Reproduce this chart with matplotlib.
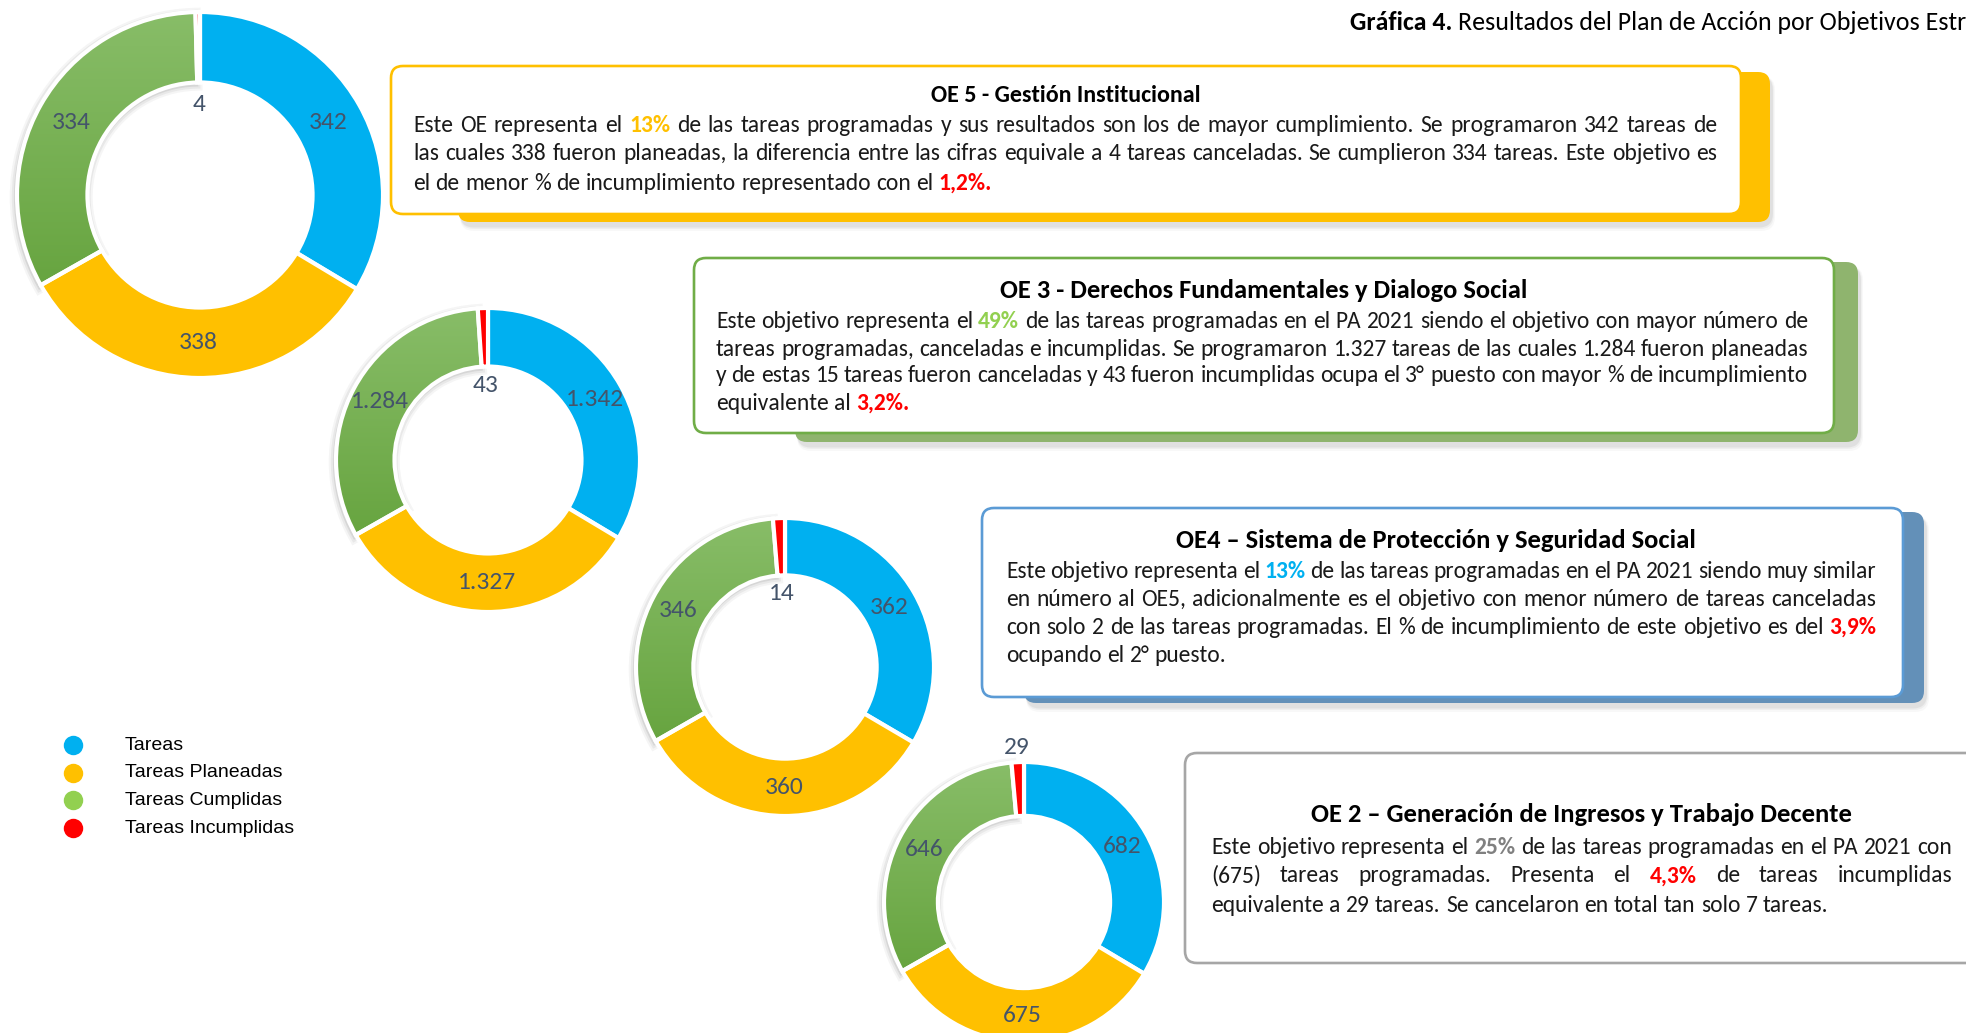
import numpy as np
import matplotlib
matplotlib.use("Agg")
import matplotlib.pyplot as plt
from matplotlib import font_manager
from matplotlib.patches import FancyBboxPatch, Wedge
from matplotlib.colors import LinearSegmentedColormap

W, H = 1966, 1033

# --- data ---
categories = ['Tareas', 'Tareas Planeadas', 'Tareas Cumplidas', 'Tareas Incumplidas']
oe5_values = [342, 338, 334, 4]
oe3_values = [1342, 1327, 1284, 43]
oe4_values = [362, 360, 346, 14]
oe2_values = [682, 675, 646, 29]

chart_title_bold = 'Gráfica 4.'
chart_title_rest = 'Resultados del Plan de Acción por Objetivos Estratégicos'

# ^x^ = accent colour, ~x~ = red
oe5_title = 'OE 5 - Gestión Institucional'
oe5_lines = [
    'Este OE representa el ^13%^ de las tareas programadas y sus resultados son los de mayor cumplimiento. Se programaron 342 tareas de',
    'las cuales 338 fueron planeadas, la diferencia entre las cifras equivale a 4 tareas canceladas.  Se cumplieron 334 tareas. Este objetivo es',
    'el de menor % de incumplimiento representado con el ~1,2%.~',
]
oe3_title = 'OE 3 - Derechos Fundamentales y Dialogo Social'
oe3_lines = [
    'Este objetivo representa el ^49%^ de las tareas programadas en el PA 2021 siendo el objetivo con mayor número de',
    'tareas programadas, canceladas e incumplidas. Se programaron 1.327 tareas de las cuales 1.284 fueron planeadas',
    'y de estas 15 tareas fueron canceladas y 43 fueron incumplidas ocupa el 3° puesto con mayor % de incumplimiento',
    'equivalente al ~3,2%.~',
]
oe4_title = 'OE4 – Sistema de Protección y Seguridad Social'
oe4_lines = [
    'Este objetivo representa el ^13%^ de las tareas programadas en el PA 2021 siendo muy similar',
    'en número al OE5, adicionalmente es el objetivo con menor número de tareas canceladas',
    'con solo 2 de las tareas programadas. El % de incumplimiento de este objetivo es del ~3,9%~',
    'ocupando el 2° puesto.',
]
oe2_title = 'OE 2 – Generación de Ingresos y Trabajo Decente'
oe2_lines = [
    'Este objetivo representa el ^25%^ de las tareas programadas en el PA 2021 con',
    '(675) tareas programadas. Presenta el ~4,3%~ de tareas incumplidas',
    'equivalente a 29 tareas. Se cancelaron en total tan solo 7 tareas.',
]

# --- styles ---
slice_colors = ['#00B0F0', '#FFC000', '#70AD47', '#FF0000']
legend_colors = ['#00B0F0', '#FFC000', '#92D050', '#FF0000']
label_color = '#44546A'
text_color = '#1A1A1A'
HOLE = 0.615


def pick_font(names):
    for n in names:
        try:
            font_manager.findfont(font_manager.FontProperties(family=n), fallback_to_default=False)
            return n
        except ValueError:
            pass
    return 'DejaVu Sans'


FONT = pick_font(['Carlito', 'Liberation Sans Narrow', 'Lato'])
LABEL_FONT = pick_font(['Carlito', 'Lato'])

# donut layout: (values, cx, cy, R, red label outside)
donuts = [
    (oe5_values, 200, 195, 183, False),
    (oe3_values, 488, 460, 152, False),
    (oe4_values, 785, 667, 149, False),
    (oe2_values, 1024, 902, 140, True),
]

# box layout
boxes = [
    dict(title=oe5_title, lines=oe5_lines, box=(391, 66, 1741, 214), shadow=(458, 72, 1770, 222),
         border='#FFC000', shadow_col='#FFC000', accent='#FFC000', title_x=1066, title_y=95, title_w=270,
         tx=(413, 1717), ly=[125, 154, 183]),
    dict(title=oe3_title, lines=oe3_lines, box=(694, 258, 1834, 433), shadow=(795, 262, 1858, 442),
         border='#70AD47', shadow_col='#8FB46E', accent='#92D050', title_x=1264, title_y=290, title_w=530,
         tx=(716, 1808), ly=[322, 349, 376, 403]),
    dict(title=oe4_title, lines=oe4_lines, box=(982, 508, 1903, 697), shadow=(1024, 512, 1924, 703),
         border='#5B9BD5', shadow_col='#6390B8', accent='#00B0F0', title_x=1436, title_y=541, title_w=521,
         tx=(1006, 1876), ly=[571, 599, 627, 655]),
    dict(title=oe2_title, lines=oe2_lines, box=(1185, 753, 1995, 963), shadow=None,
         border='#A6A6A6', shadow_col=None, accent='#808080', title_x=1581, title_y=814, title_w=543,
         tx=(1211, 1952), ly=[847, 876, 905]),
]

fig = plt.figure(figsize=(W / 100, H / 100), dpi=100)
ax = fig.add_axes([0, 0, 1, 1])
ax.set_xlim(0, W)
ax.set_ylim(H, 0)
ax.axis('off')
renderer = fig.canvas.get_renderer()


def parse(line, accent):
    words = []
    for tok in line.split(' '):
        if tok == '':
            continue
        if tok.startswith('^') and tok.endswith('^'):
            words.append((tok[1:-1], accent, 'bold'))
        elif tok.startswith('~') and tok.endswith('~'):
            words.append((tok[1:-1], '#FF0000', 'bold'))
        else:
            words.append((tok, text_color, 'normal'))
    return words


def text_width(s, size, weight='normal', family=None):
    t = ax.text(0, 0, s, fontsize=size, family=family or FONT, fontweight=weight)
    w = t.get_window_extent(renderer).width
    t.remove()
    return w


def space_width(size):
    return text_width('a a', size) - text_width('aa', size)


def draw_line(x0, y, line, size, accent, width=None):
    words = parse(line, accent)
    arts = []
    widths = []
    for w, c, fw in words:
        t = ax.text(x0, y, w, fontsize=size, family=FONT, fontweight=fw, color=c,
                    va='center', ha='left', zorder=10)
        arts.append(t)
        widths.append(t.get_window_extent(renderer).width)
    if width is not None and len(words) > 1:
        gap = (width - sum(widths)) / (len(words) - 1)
    else:
        gap = space_width(size)
    x = x0
    for t, w in zip(arts, widths):
        t.set_x(x)
        x += w + gap


# common body font size so the justified lines fit their boxes (spaces may shrink a little)
ref = 14
scales = []
for b in boxes:
    for line in b['lines'][:-1]:
        words = parse(line, b['accent'])
        nat = sum(text_width(w, ref, fw) for w, _, fw in words)
        nat += (len(words) - 1) * space_width(ref) * 0.8
        scales.append((b['tx'][1] - b['tx'][0]) / nat)
body_size = ref * min(scales)

# --- boxes ---
for b in boxes:
    if b['shadow'] is not None:
        sx0, sy0, sx1, sy1 = b['shadow']
        for k, a in zip([10, 6, 3], [0.05, 0.08, 0.12]):
            ax.add_patch(FancyBboxPatch((sx0 + 2, sy0 + 4), sx1 - sx0 + k * 0.3, sy1 - sy0 + k * 0.5,
                                        boxstyle='round,pad=0,rounding_size=14', fc='#808080',
                                        ec='none', alpha=a, zorder=3))
        ax.add_patch(FancyBboxPatch((sx0, sy0), sx1 - sx0, sy1 - sy0,
                                    boxstyle='round,pad=0,rounding_size=12', fc=b['shadow_col'],
                                    ec='none', zorder=4))
    x0, y0, x1, y1 = b['box']
    ax.add_patch(FancyBboxPatch((x0, y0), x1 - x0, y1 - y0, boxstyle='round,pad=0,rounding_size=12',
                                fc='white', ec=b['border'], lw=1.9, zorder=5))
    tsize = 14 * b['title_w'] / text_width(b['title'], 14, 'bold')
    ax.text(b['title_x'], b['title_y'], b['title'], fontsize=tsize, family=FONT, fontweight='bold',
            color='black', ha='center', va='center', zorder=10)
    n = len(b['lines'])
    for i, (line, y) in enumerate(zip(b['lines'], b['ly'])):
        width = b['tx'][1] - b['tx'][0] if i < n - 1 else None
        draw_line(b['tx'][0], y, line, body_size, b['accent'], width)

# --- donuts ---
green_cmap = LinearSegmentedColormap.from_list('grn', ['#88BD68', '#5C9C32'])
grad = np.linspace(0, 1, 256).reshape(-1, 1)
label_size = 17 * 46 / text_width('1.342', 17, family=LABEL_FONT) * 1.27
for vals, cx, cy, R, red_out in donuts:
    wedges, _ = ax.pie(vals, colors=slice_colors, startangle=-90, counterclock=True,
                       radius=R, center=(cx, cy), frame=True,
                       wedgeprops=dict(width=R * (1 - HOLE), edgecolor='white', linewidth=3))
    for w in wedges:
        w.set_zorder(2)
    g = wedges[2]
    # soft shadow around the green slice
    for lw, a in zip([9, 6, 3], [0.05, 0.07, 0.10]):
        ax.add_patch(Wedge((cx - 1, cy + 2), R, g.theta1, g.theta2, width=R * (1 - HOLE),
                           fc='none', ec='#404040', lw=lw, alpha=a, zorder=1.5))
    im = ax.imshow(grad, cmap=green_cmap, extent=(cx - R, cx + R, cy + R, cy - R),
                   origin='upper', aspect='auto', zorder=1.8)
    im.set_clip_path(g)
    g.set_facecolor('none')
    r_mid = R * (1 + HOLE) / 2
    for i, (w, v) in enumerate(zip(wedges, vals)):
        ang = np.deg2rad((w.theta1 + w.theta2) / 2)
        if i == 3:
            r = R + 15 if red_out else R * HOLE * 0.8
        else:
            r = r_mid
        ax.text(cx + r * np.cos(ang), cy + r * np.sin(ang), f'{v:,}'.replace(',', '.'),
                fontsize=label_size, family=LABEL_FONT, color=label_color,
                ha='center', va='center', zorder=6)

# --- legend ---
for i, (lab, col) in enumerate(zip(categories, legend_colors)):
    y = 745 + i * 27.7
    ax.plot(73, y, 'o', ms=14, color=col, mec='none', zorder=6)
    ax.text(125, y, lab, fontsize=14, family='Liberation Sans', color='black',
            ha='left', va='center', zorder=6)

# --- figure title (runs off the right edge like the original) ---
title_size = 15 * 103 / text_width(chart_title_bold, 15, 'bold')
t1 = ax.text(1350, 22, chart_title_bold, fontsize=title_size, family=FONT, fontweight='bold',
             color='black', ha='left', va='center')
w1 = t1.get_window_extent(renderer).width
ax.text(1350 + w1 + space_width(title_size), 22, chart_title_rest, fontsize=title_size, family=FONT,
        color='black', ha='left', va='center', clip_on=True)

ax.set_xlim(0, W)
ax.set_ylim(H, 0)
ax.set_aspect('equal')
fig.savefig('out.png', dpi=100)
